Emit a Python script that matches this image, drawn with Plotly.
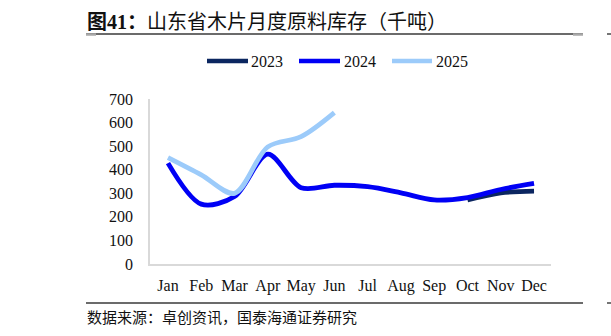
import plotly.graph_objects as go

months = ["Jan", "Feb", "Mar", "Apr", "May", "Jun", "Jul", "Aug", "Sep", "Oct", "Nov", "Dec"]
y2023 = [None, None, None, None, None, None, None, None, None, 272, 302, 309]
y2024 = [428, 254, 286, 466, 324, 334, 328, 302, 272, 282, 316, 342]
y2025 = [451, 378, 300, 497, 540, 642]
y_ticks = [0, 100, 200, 300, 400, 500, 600, 700]

W, H = 611, 336
L, R, T, B = 150, 551, 99, 264


def px_x(v):
    return (v - L) / (R - L)


def px_y(v):
    return (B - v) / (B - T)


serif = "'Times New Roman', 'Liberation Serif', 'DejaVu Serif', serif"
cjk = "'Noto Sans CJK SC', sans-serif"

series = [
    ("2023", y2023, "#0b2660"),
    ("2024", y2024, "#0000f5"),
    ("2025", y2025, "#9ccbfa"),
]

fig = go.Figure()
xs = list(range(len(months)))
for name, vals, color in series:
    fig.add_trace(go.Scatter(
        x=xs[:len(vals)], y=vals, name=name, mode="lines",
        line=dict(color=color, width=4.8, shape="spline", smoothing=0.9),
        connectgaps=False, showlegend=False,
    ))

fig.update_layout(
    width=W, height=H,
    margin=dict(l=L, r=W - R, t=T, b=H - B, pad=0),
    paper_bgcolor="white", plot_bgcolor="white",
    font=dict(family=serif, size=16, color="#111"),
    showlegend=False,
    xaxis=dict(
        tickmode="array", tickvals=xs, ticktext=months,
        range=[-0.54, 11.51], showgrid=False, zeroline=False,
        showline=True, linecolor="#d9d9d9", linewidth=1.5,
        ticks="", ticklabelstandoff=6,
        tickfont=dict(family=serif, size=16, color="#111"),
        fixedrange=True,
    ),
    yaxis=dict(
        tickmode="array", tickvals=y_ticks, range=[0, 700],
        showgrid=False, zeroline=False,
        showline=True, linecolor="#d9d9d9", linewidth=1.5,
        ticks="", ticklabelstandoff=12,
        tickfont=dict(family=serif, size=16, color="#111"),
        fixedrange=True,
    ),
)

# legend drawn as line samples + labels
legend_pos = [(207, 248, 250), (299, 340, 343), (392, 432, 435)]
for (name, _, color), (x0, x1, xt) in zip(series, legend_pos):
    fig.add_shape(type="line", xref="paper", yref="paper",
                  x0=px_x(x0), x1=px_x(x1), y0=px_y(61), y1=px_y(61),
                  line=dict(color=color, width=4.5))
    fig.add_annotation(xref="paper", yref="paper", x=px_x(xt), y=px_y(61),
                       xanchor="left", yanchor="middle", showarrow=False,
                       text=name, borderpad=0,
                       font=dict(family=serif, size=16, color="#111"))

# header and footer rules
for y in (34, 303):
    fig.add_shape(type="line", xref="paper", yref="paper",
                  x0=px_x(86), x1=px_x(583), y0=px_y(y), y1=px_y(y),
                  line=dict(color="#3a3a3a", width=1.4))
    fig.add_shape(type="line", xref="paper", yref="paper",
                  x0=px_x(607), x1=px_x(613), y0=px_y(y), y1=px_y(y),
                  line=dict(color="#3a3a3a", width=1.4))
for x0, x1 in ((86, 96), (573, 583)):
    fig.add_shape(type="line", xref="paper", yref="paper",
                  x0=px_x(x0), x1=px_x(x1), y0=px_y(34.5), y1=px_y(34.5),
                  line=dict(color="#a8a8a8", width=2.5))

fig.add_annotation(
    xref="paper", yref="paper", x=px_x(86), y=px_y(20),
    xanchor="left", yanchor="middle", showarrow=False, borderpad=0,
    text=("<b>图<span style=\"font-family:'Liberation Serif',serif\">41</span>：</b>"
          "山东省木片月度原料库存（千吨）"),
    font=dict(family=cjk, size=20, color="#111"),
)
fig.add_annotation(
    xref="paper", yref="paper", x=px_x(86), y=px_y(316),
    xanchor="left", yanchor="middle", showarrow=False, borderpad=0,
    text="数据来源：卓创资讯，国泰海通证券研究",
    font=dict(family=cjk, size=15, color="#111"),
)

fig.write_html("out.html")
